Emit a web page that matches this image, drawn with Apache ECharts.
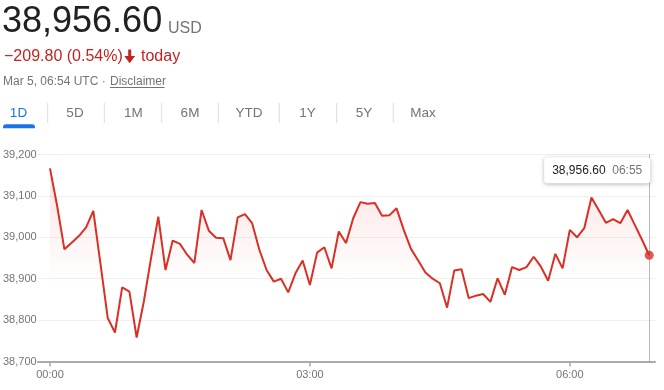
<!DOCTYPE html>
<html><head><meta charset="utf-8">
<script src="https://cdn.jsdelivr.net/npm/echarts@6/dist/echarts.min.js"></script>
<style>html,body{margin:0;padding:0;background:#fff}#c{width:664px;height:390px}</style>
</head><body><div id="c"></div>
<script>
// 5-minute prices from 00:00 to 06:55 UTC
const prices = [
  39166.4, 39075, 38971, 38987, 39003, 39024, 39064, 38935, 38805, 38770,
  38879, 38869, 38758, 38845, 38950, 39050, 38921, 38992, 38984, 38958,
  38938, 39066, 39016, 38999, 38998, 38945, 39048, 39056, 39034, 38970,
  38921, 38893, 38900, 38867, 38913, 38944, 38885, 38963, 38976, 38925,
  39014, 38986, 39046, 39085, 39081, 39083, 39052, 39053, 39070, 39018,
  38972, 38944, 38915, 38900, 38889, 38830, 38920, 38923, 38853, 38859,
  38863, 38844, 38901, 38861, 38928, 38921, 38928, 38953, 38929, 38895,
  38960, 38925, 39018, 39000, 39022, 39096, 39066, 39035, 39044, 39034,
  39066, 39030, 38994, 38956.6
];
const stepMinutes = 5;
const xTickMinutes = [0, 180, 360];
const xTickLabels = ['00:00', '03:00', '06:00'];
const yMin = 38700, yMax = 39200, yStep = 100;
const lastTimeLabel = '06:55';
const currency = 'USD';
const changeText = '\u2212209.80 (0.54%)';
const changeWord = 'today';
const dateLine = 'Mar 5, 06:54 UTC \u00b7 ';
const disclaimer = 'Disclaimer';
const tabs = ['1D', '5D', '1M', '6M', 'YTD', '1Y', '5Y', 'Max'];

const fmt = v => v.toLocaleString('en-US', {minimumFractionDigits: 0, maximumFractionDigits: 2});
const fmt2 = v => v.toLocaleString('en-US', {minimumFractionDigits: 2, maximumFractionDigits: 2});
const seriesData = prices.map((v, i) => [i * stepMinutes, v]);
const last = seriesData[seriesData.length - 1];

const FONT = '"Liberation Sans", Arial, sans-serif';
const RED = '#d93025';
const GRAY = '#70757a';

const tabX = [18.5, 75, 133.3, 190, 249, 307.5, 364, 423];
const sepX = [47.7, 104.3, 161.7, 218.3, 279.3, 336.7, 393.3];

const graphics = [
  {type: 'text', x: 2, y: 22.5, style: {text: fmt2(last[1]), font: '36px ' + FONT, fill: '#202124', textVerticalAlign: 'middle'}},
  {type: 'text', x: 168, y: 29, style: {text: currency, font: '16px ' + FONT, fill: GRAY, textVerticalAlign: 'middle'}},
  {type: 'text', x: 4, y: 56.5, style: {text: changeText, font: '16px ' + FONT, fill: '#c5221f', textVerticalAlign: 'middle'}},
  {type: 'rect', shape: {x: 128.2, y: 49.5, width: 3, height: 8}, style: {fill: '#c5221f'}},
  {type: 'polygon', shape: {points: [[124.3, 56], [135.1, 56], [129.7, 63.3]]}, style: {fill: '#c5221f'}},
  {type: 'text', x: 141, y: 56.5, style: {text: changeWord, font: '16px ' + FONT, fill: '#c5221f', textVerticalAlign: 'middle'}},
  {type: 'text', x: 3, y: 82, style: {text: dateLine, font: '12px ' + FONT, fill: GRAY, textVerticalAlign: 'middle'}},
  {type: 'text', x: 110, y: 82, style: {text: disclaimer, font: '12px ' + FONT, fill: GRAY, textVerticalAlign: 'middle'}},
  {type: 'line', shape: {x1: 110, y1: 87.5, x2: 164.5, y2: 87.5}, style: {stroke: GRAY, lineWidth: 1}},
  {type: 'rect', shape: {x: 3, y: 124.3, width: 32, height: 4, r: [3, 3, 0, 0]}, style: {fill: '#1a73e8'}}
];
tabs.forEach((t, i) => {
  graphics.push({type: 'text', x: tabX[i], y: 113, style: {text: t, font: '13.5px ' + FONT, fill: i === 0 ? '#1a73e8' : GRAY, textAlign: 'center', textVerticalAlign: 'middle'}});
});
sepX.forEach(x => {
  graphics.push({type: 'line', shape: {x1: x, y1: 103, x2: x, y2: 123}, style: {stroke: '#dadce0', lineWidth: 1}});
});

const chart = echarts.init(document.getElementById('c'), null, {renderer: 'canvas'});
chart.setOption({
  animation: false,
  textStyle: {fontFamily: FONT},
  grid: {left: 38, right: 9, top: 154.5, bottom: 28.5},
  xAxis: {
    type: 'value', min: -8.3, max: 419,
    axisLine: {show: true, lineStyle: {color: '#ababab', width: 2}},
    splitLine: {show: false},
    axisTick: {show: true, customValues: xTickMinutes, length: 5, lineStyle: {color: '#ababab', width: 1.5}},
    axisLabel: {
      customValues: xTickMinutes, color: GRAY, fontSize: 11, margin: 8,
      formatter: v => xTickLabels[xTickMinutes.indexOf(v)] || ''
    }
  },
  yAxis: {
    type: 'value', min: yMin, max: yMax, interval: yStep,
    axisLine: {show: false}, axisTick: {show: false},
    splitLine: {lineStyle: {color: '#efefef', width: 1}},
    axisLabel: {align: 'left', margin: 35, color: GRAY, fontSize: 11, formatter: v => fmt(v)}
  },
  graphic: graphics,
  series: [
    {
      type: 'line', data: seriesData, symbol: 'none', smooth: false,
      lineStyle: {color: RED, width: 2},
      areaStyle: {
        origin: 'start',
        color: new echarts.graphic.LinearGradient(0, 0, 0, 1, [
          {offset: 0, color: 'rgba(217,48,37,0.18)'},
          {offset: 0.6, color: 'rgba(217,48,37,0)'}
        ])
      },
      markLine: {
        silent: true, symbol: ['none', 'none'], label: {show: false},
        lineStyle: {type: 'dotted', color: '#777', width: 1},
        data: [{xAxis: last[0]}]
      },
      markPoint: {
        silent: true, symbol: 'circle', symbolSize: 1,
        itemStyle: {color: 'rgba(0,0,0,0)'},
        label: {
          show: true, position: 'inside', offset: [-52, -85],
          backgroundColor: '#fff', padding: [7, 8, 7, 8], borderRadius: 3,
          shadowBlur: 4, shadowColor: 'rgba(0,0,0,0.3)', shadowOffsetY: 1,
          formatter: '{a|' + fmt2(last[1]) + '}  {b|' + lastTimeLabel + '}',
          rich: {
            a: {color: '#202124', fontSize: 12, fontFamily: FONT},
            b: {color: GRAY, fontSize: 12, fontFamily: FONT}
          }
        },
        data: [{coord: last}]
      }
    },
    {
      type: 'scatter', data: [last], symbol: 'circle', symbolSize: 9,
      itemStyle: {color: RED}, silent: true, z: 5
    }
  ]
});
</script>
</body></html>
